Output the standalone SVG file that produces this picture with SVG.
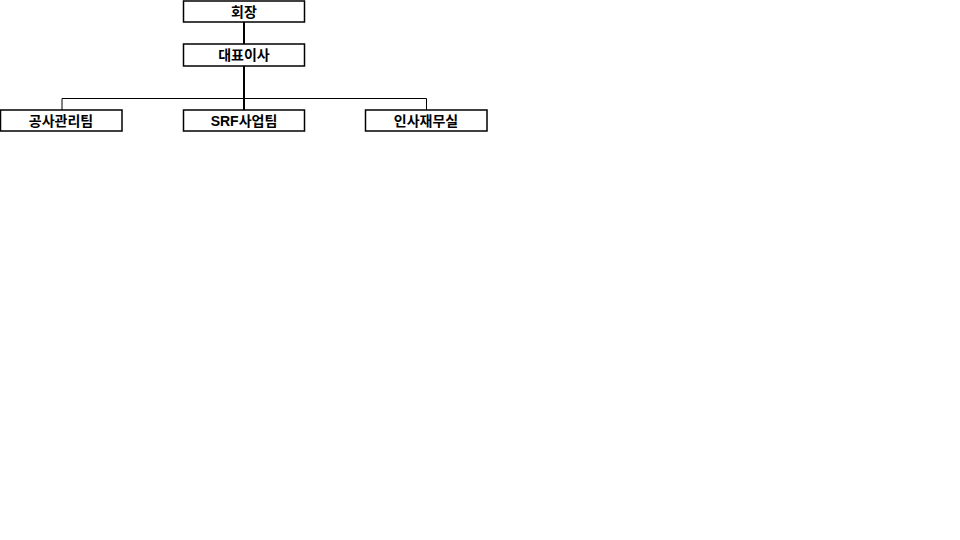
<svg xmlns="http://www.w3.org/2000/svg" width="960" height="540" viewBox="0 0 960 540">
<style>
.box{fill:#fff;stroke:#000;stroke-width:1.5}
.lbl{font-family:"Liberation Sans","Noto Sans CJK KR",sans-serif;font-size:14px;font-weight:bold;fill:#000;text-anchor:middle}
.ln{stroke:#000;fill:none}
</style>
<rect width="960" height="540" fill="#fff"/>
<g id="connectors">
<line class="ln" x1="244" y1="22" x2="244" y2="44" stroke-width="2"/>
<line class="ln" x1="244" y1="66" x2="244" y2="110" stroke-width="2"/>
<polyline class="ln" points="62,110 62,98.5 426.5,98.5 426.5,110" stroke-width="1"/>
</g>
<g id="n1"><rect class="box" x="183.5" y="1" width="121" height="21"/><text class="lbl" x="244" y="16.5">회장</text></g>
<g id="n2"><rect class="box" x="183.5" y="44" width="121" height="22"/><text class="lbl" x="244" y="60">대표이사</text></g>
<g id="n3"><rect class="box" x="0.5" y="110" width="121.5" height="21"/><text class="lbl" x="61" y="125.5">공사관리팀</text></g>
<g id="n4"><rect class="box" x="183.5" y="110" width="121" height="21"/><text class="lbl" x="244" y="125.5">SRF사업팀</text></g>
<g id="n5"><rect class="box" x="365.5" y="110" width="121.5" height="21"/><text class="lbl" x="426" y="125.5">인사재무실</text></g>
</svg>
